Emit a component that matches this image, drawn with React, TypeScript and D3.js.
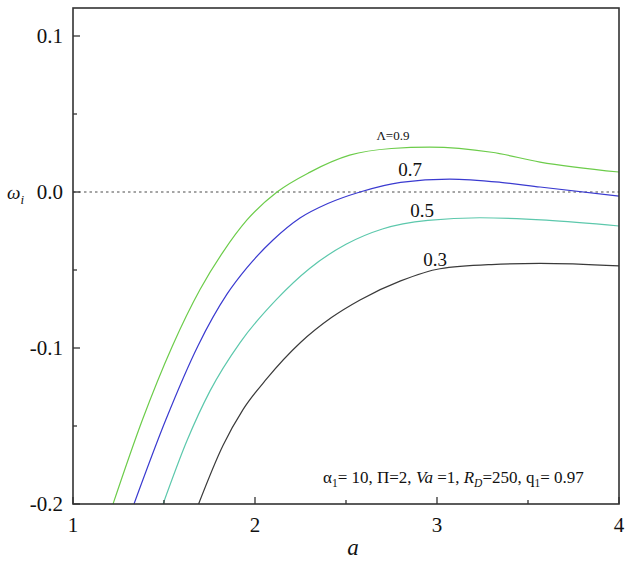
import React from "react";
import * as d3 from "d3";

const xTicks = [1, 2, 3, 4];
const xMinorTicks = [1.5, 2.5, 3.5];
const yTicks = [0.1, 0.0, -0.1, -0.2];
const yTickLabels = ["0.1", "0.0", "-0.1", "-0.2"];
const yMinorTicks = [0.05, -0.05, -0.15];

const lambdas = ["Λ=0.9", "0.7", "0.5", "0.3"];
const colors = ["#6ccc4a", "#3a3ad0", "#5cc8ac", "#3a3a3a"];

const aGreen = [1.22, 1.38, 1.545, 1.698, 1.824, 1.956, 2.121, 2.3, 2.52, 2.75, 2.96, 3.3, 3.566, 4.0];
const wGreen = [-0.2, -0.1465, -0.099, -0.0625, -0.0385, -0.0179, 0, 0.0126, 0.0236, 0.0279, 0.0288, 0.0255, 0.0192, 0.0128];

const aBlue = [1.335, 1.51, 1.687, 1.846, 1.956, 2.099, 2.247, 2.4, 2.577, 2.8, 3.07, 3.35, 3.566, 4.0];
const wBlue = [-0.2, -0.146, -0.0985, -0.0655, -0.0485, -0.0308, -0.0167, -0.0074, 0, 0.0062, 0.0083, 0.0062, 0.0032, -0.0026];

const aTeal = [1.495, 1.626, 1.753, 1.918, 2.121, 2.3, 2.5, 2.7, 2.95, 3.236, 3.6, 4.0];
const wTeal = [-0.2, -0.1595, -0.1275, -0.0965, -0.0685, -0.049, -0.0335, -0.0237, -0.0182, -0.0165, -0.018, -0.0218];

const aBlack = [1.69, 1.824, 1.934, 2.066, 2.25, 2.42, 2.577, 2.8, 3.016, 3.3, 3.566, 4.0];
const wBlack = [-0.2, -0.1625, -0.1395, -0.1195, -0.0965, -0.0805, -0.0692, -0.057, -0.0492, -0.0465, -0.0458, -0.0474];

const seriesA = [aGreen, aBlue, aTeal, aBlack];
const seriesW = [wGreen, wBlue, wTeal, wBlack];

const W = 640;
const H = 569;
const left = 73;
const right = 619;
const top = 8;
const bottom = 504;

export default function App() {
  const x = d3.scaleLinear().domain([1, 4]).range([left, right]);
  const y = d3.scaleLinear().domain([-0.2, 0.1]).range([bottom, bottom - 3 * 156]);
  const line = d3
    .line<[number, number]>()
    .x((d) => x(d[0]))
    .y((d) => y(d[1]))
    .curve(d3.curveMonotoneX);

  const font = "'Liberation Serif', 'Times New Roman', Times, 'DejaVu Serif', serif";
  const axisColor = "#333";

  const labelPos = [
    { a: 2.758, w: 0.0333, size: 13 },
    { a: 2.852, w: 0.0103, size: 19 },
    { a: 2.918, w: -0.016, size: 19 },
    { a: 2.99, w: -0.0475, size: 19 },
  ];

  return (
    <svg
      width={W}
      height={H}
      style={{ position: "absolute", left: 0, top: 0, background: "#fff", fontFamily: font }}
    >
      <rect x={0} y={0} width={W} height={H} fill="#fff" />
      <line
        x1={left}
        x2={right}
        y1={y(0)}
        y2={y(0)}
        stroke="#888"
        strokeWidth={1.3}
        strokeDasharray="2.5,3"
      />
      {seriesA.map((as, i) => (
        <path
          key={i}
          d={line(as.map((a, j) => [a, seriesW[i][j]] as [number, number])) || ""}
          fill="none"
          stroke={colors[i]}
          strokeWidth={1.2}
        />
      ))}
      {labelPos.map((l, i) => (
        <text key={i} x={x(l.a)} y={y(l.w)} fontSize={l.size} textAnchor="middle" fill="#111" fontFamily={font}>
          {lambdas[i]}
        </text>
      ))}
      <rect
        x={left}
        y={top}
        width={right - left}
        height={bottom - top}
        fill="none"
        stroke={axisColor}
        strokeWidth={1.6}
      />
      {xTicks.map((t) => (
        <g key={"xt" + t}>
          <line x1={x(t)} x2={x(t)} y1={bottom} y2={bottom - 7} stroke={axisColor} strokeWidth={1.3} />
          <text x={x(t)} y={532} fontSize={21} textAnchor="middle" fill="#111" fontFamily={font}>
            {t}
          </text>
        </g>
      ))}
      {xMinorTicks.map((t) => (
        <line key={"xm" + t} x1={x(t)} x2={x(t)} y1={bottom} y2={bottom - 4} stroke={axisColor} strokeWidth={1.3} />
      ))}
      {yTicks.map((t, i) => (
        <g key={"yt" + t}>
          <line x1={left} x2={left + 7} y1={y(t)} y2={y(t)} stroke={axisColor} strokeWidth={1.3} />
          <text x={63} y={y(t) + 7} fontSize={21} textAnchor="end" fill="#111" fontFamily={font}>
            {yTickLabels[i]}
          </text>
        </g>
      ))}
      {yMinorTicks.map((t) => (
        <line key={"ym" + t} x1={left} x2={left + 4} y1={y(t)} y2={y(t)} stroke={axisColor} strokeWidth={1.3} />
      ))}
      <text x={353} y={555} fontSize={23} fontStyle="italic" textAnchor="middle" fill="#111" fontFamily={font}>
        a
      </text>
      <text x={7} y={199} fontSize={19} fontStyle="italic" fill="#111" fontFamily={font}>
        ω<tspan fontSize={13} dy={5}>i</tspan>
      </text>
      <text x={323} y={483} fontSize={17} fill="#111" fontFamily={font}>
        α<tspan fontSize={11.5} dy={4}>1</tspan>
        <tspan dy={-4}>= 10, Π=2, </tspan>
        <tspan fontStyle="italic">Va</tspan>
        <tspan> =1, </tspan>
        <tspan fontStyle="italic">R</tspan>
        <tspan fontSize={11.5} fontStyle="italic" dy={4}>D</tspan>
        <tspan dy={-4}>=250, q</tspan>
        <tspan fontSize={11.5} dy={4}>1</tspan>
        <tspan dy={-4}>= 0.97</tspan>
      </text>
    </svg>
  );
}
